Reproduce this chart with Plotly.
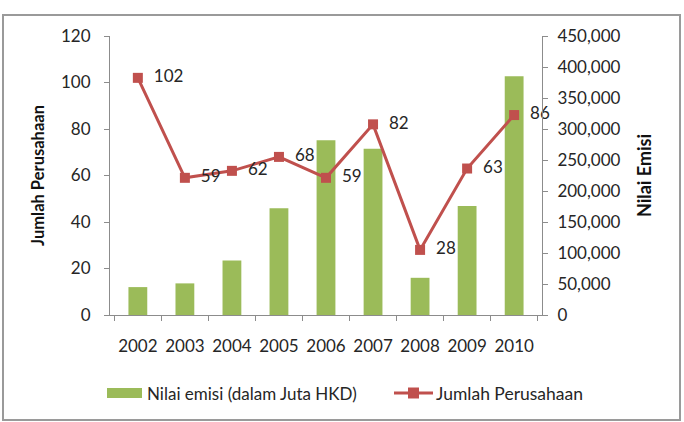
import plotly.graph_objects as go

years = ["2002", "2003", "2004", "2005", "2006", "2007", "2008", "2009", "2010"]
nilai_emisi = [45000, 51000, 88000, 172000, 282000, 268000, 60000, 176000, 385000]
jumlah_perusahaan = [102, 59, 62, 68, 59, 82, 28, 63, 86]

GREEN = "#9BBB59"
RED = "#C0504D"
AXIS = "#8C8C8C"
TXT = "#262626"
FONT = "Lato"
FS = 17

fig = go.Figure()
fig.add_trace(go.Bar(
    x=years, y=nilai_emisi, name="Nilai emisi (dalam Juta HKD)",
    marker=dict(color=GREEN, line=dict(width=0)), yaxis="y",
))
fig.add_trace(go.Scatter(
    x=years, y=jumlah_perusahaan, name="Jumlah Perusahaan",
    mode="lines+markers+text", yaxis="y2",
    line=dict(color=RED, width=3),
    marker=dict(symbol="square", size=10, color=RED),
    text=["  " + str(v) for v in jumlah_perusahaan],
    textposition="middle right",
    textfont=dict(family=FONT, size=FS, color=TXT),
    cliponaxis=False,
))

L, R, T, B = 110, 142, 36, 107
W, H = 684, 422
pw, ph = W - L - R, H - T - B

def px(p):
    return (p - L) / pw

def py(q):
    return (H - B - q) / ph

shapes = [
    dict(type="rect", xref="paper", yref="paper",
         x0=px(3), x1=px(680), y0=py(420), y1=py(15),
         line=dict(color="#9A9A9A", width=2), fillcolor="rgba(0,0,0,0)", layer="below"),
    # legend swatches
    dict(type="rect", xref="paper", yref="paper",
         x0=px(107), x1=px(142), y0=py(398), y1=py(388),
         line=dict(width=0), fillcolor=GREEN),
    dict(type="line", xref="paper", yref="paper",
         x0=px(394), x1=px(433), y0=py(393), y1=py(393),
         line=dict(color=RED, width=3)),
    dict(type="rect", xref="paper", yref="paper",
         x0=px(408), x1=px(419), y0=py(398.5), y1=py(387.5),
         line=dict(width=0), fillcolor=RED),
]

annotations = [
    dict(text="Nilai emisi (dalam Juta HKD)", xref="paper", yref="paper",
         x=px(145), y=py(393), xanchor="left", yanchor="middle", showarrow=False,
         font=dict(family=FONT, size=17, color=TXT)),
    dict(text="Jumlah Perusahaan", xref="paper", yref="paper",
         x=px(434), y=py(393), xanchor="left", yanchor="middle", showarrow=False,
         font=dict(family=FONT, size=17.5, color=TXT)),
]

fig.update_layout(
    width=W, height=H,
    margin=dict(l=L, r=R, t=T, b=B, autoexpand=False),
    paper_bgcolor="white", plot_bgcolor="white",
    font=dict(family=FONT, size=FS, color=TXT),
    bargap=0.6,
    showlegend=False,
    xaxis=dict(
        showline=True, linecolor=AXIS, linewidth=1,
        ticks="outside", tickson="boundaries", ticklen=5, tickcolor=AXIS,
        ticklabelstandoff=16, showgrid=False, tickangle=0,
        tickfont=dict(family=FONT, size=FS, color=TXT),
    ),
    yaxis=dict(
        side="right", range=[0, 450000], dtick=50000, tickformat=",",
        showline=True, linecolor=AXIS, linewidth=1,
        ticks="outside", ticklen=5, tickcolor=AXIS, showgrid=False, zeroline=False,
        ticklabelstandoff=6,
        tickfont=dict(family=FONT, size=FS, color=TXT),
        title=dict(text="<b>Nilai Emisi</b>", font=dict(family=FONT, size=18, color="#111111"), standoff=18),
    ),
    yaxis2=dict(
        side="left", overlaying="y", range=[0, 120], dtick=20,
        showline=True, linecolor=AXIS, linewidth=1,
        ticks="outside", ticklen=5, tickcolor=AXIS, showgrid=False, zeroline=False,
        ticklabelstandoff=10,
        tickfont=dict(family=FONT, size=FS, color=TXT),
        title=dict(text="<b>Jumlah Perusahaan</b>", font=dict(family=FONT, size=16.5, color="#111111"), standoff=12),
    ),
    shapes=shapes,
    annotations=annotations,
)

fig.write_html("out.html")
